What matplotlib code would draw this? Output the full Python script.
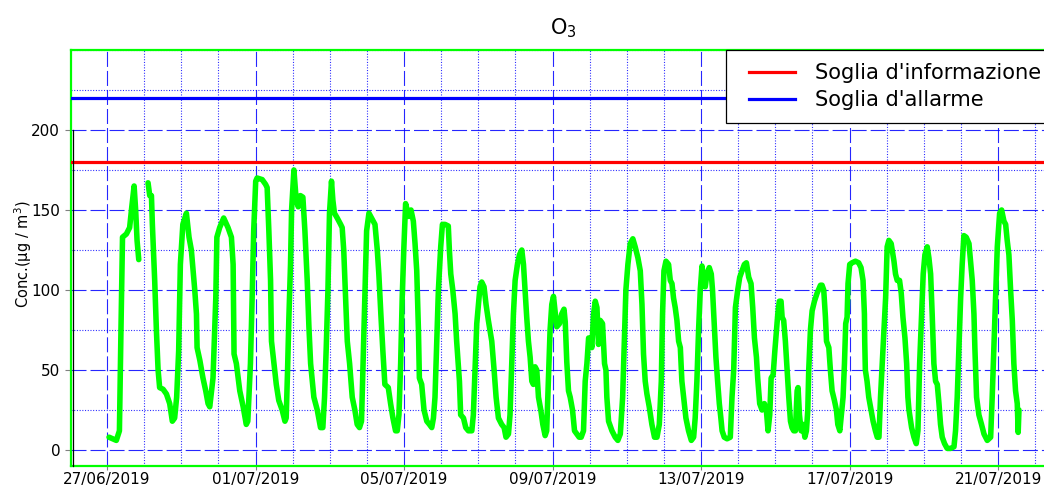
import numpy as np
import pandas as pd
import matplotlib
matplotlib.use("Agg")
import matplotlib.pyplot as plt
import matplotlib.dates as mdates
from matplotlib.ticker import MultipleLocator, FixedLocator
from matplotlib.lines import Line2D
from matplotlib.legend_handler import HandlerLine2D
from matplotlib.transforms import ScaledTranslation

# ---------------- data ----------------
start_time = "2019-06-27 00:00"
nan = np.nan

# hours since 27/06/2019 00:00
hours = [
    1.3, 6, 8, 9, 10, 12.5, 14.6, 16, 17.5, 18.5, 19.4, 20.5, 23.5, 26.5, 27.6, 28.7, 29.3, 30.8, 31.9, 33, 34,
    36.2, 38.4, 40.5, 42.2, 43.7, 45, 46.3, 47.4, 49, 51.3, 53, 54.5, 56.7, 57.8, 58.2, 60, 62, 63.8, 65.3,
    66.4, 68.5, 70.3, 71, 72.8, 75.4, 78.2, 80.4, 81.5, 82.1, 83.6, 85.8, 88, 90, 91, 92.7, 93.8, 94.8, 96.1,
    97, 100.3, 102.5, 103.5, 104.6, 105.7, 106.3, 107.9, 109.4, 111, 113.2, 115, 115.8, 116.7, 117.5, 118.6,
    119.3, 120.8, 122.3, 123.6, 125, 126.6, 127.9, 129.4, 130.5, 131.6, 133.7, 135.9, 138, 139.5, 140.6,
    141.7, 142.8, 143.8, 145.1, 146, 147, 148.8, 151, 152, 153, 154.2, 155.3, 156.8, 158.5, 160.2, 161.7,
    163.2, 164.5, 165.4, 166.7, 167.8, 169.3, 171, 173.2, 174.7, 175.7, 177, 178.3, 179.6, 181.8, 183.3,
    184.8, 186.5, 187.6, 188.7, 189.8, 190.8, 191.9, 193, 195, 196.5, 198,
    199.1, 200.2, 201.3, 201.9, 203.4, 204.9, 206.7, 208.4, 209.9, 211, 212, 213, 214.2, 215.7, 216.8,
    218.5, 220.6, 221.3, 222.2, 223.5, 225, 226, 227.8, 228.6, 230.4, 231.9, 233.6, 235.8, 236.8, 237.9,
    239, 240.1, 241.1, 242.2, 243.7, 245, 246.5, 248.7, 250.2, 251.5, 253, 255.1, 256.7, 257.9, 259.5,
    260.5, 261.6, 262.7, 263.8, 265.3, 266.6, 268.1, 269.2, 270.2, 271.3, 272.4, 273.5, 274.6, 275.6,
    276.7, 277.8, 278.9, 280.4, 281.7, 283.2, 284.2, 285.3, 286.4, 287.5, 288.6, 289.6, 290.7, 292.5,
    293.9, 295.4, 296.2, 297.2, 298.3,
    299.4, 300.9, 302.2, 303.7, 305.2, 306.5, 308, 309.1, 310.2, 311.3, 312.3, 313.4, 314.5, 315.6, 316.7,
    317.7, 318.8, 320.3, 321.6, 322.5, 323.1, 324.2, 326.4, 328.5, 330.2, 331.8, 333.3, 334.6, 335.4,
    336.7, 338.2, 339.9, 341.4, 343.2, 344.7, 345.8, 346.8, 347.9, 349, 350.5, 352.2, 353.9, 355.5, 357,
    358.3, 359.1, 360, 361.3, 363, 364.1, 365.2, 366.2, 367.3, 368.4, 369.5, 370.6, 371.6, 372.7, 374.2,
    375.9, 377.7, 379.2, 380.2, 381.3, 382.4, 383.5, 384.6, 385.6, 386.7, 387.8, 389.3, 390.6, 391.4,
    392.5, 393.6, 394.7, 395.8, 396.8,
    397.6, 399, 400.8, 402.9, 404, 405.1, 406.2, 407.7, 409, 410.5, 412, 413.3, 414.8, 416.3, 417.4, 418.5,
    419.8, 420.6, 421.9, 423.4, 424.9, 426.2, 427.3, 428.4, 429.3, 430.6, 431.7, 432.8, 433.6, 434.6,
    435.7, 436.4, 437.4, 438.5, 439.6, 440.7, 441.8, 442.8, 443.9, 445, 446.1, 446.7, 447.6, 448.7, 450,
    451.1, 452.1, 453, 453.6, 454.7, 455.8, 457.3, 459, 461.2, 462.2, 463.3, 464.4, 465.1, 466.6, 467.6,
    468.7, 470.2, 471.5, 472.4, 473.7, 474.5, 475.8, 476.7, 477.5, 478.4, 479, 480.1, 481.6, 483.8, 485.9,
    487.4, 488.7, 489.6, 489.8, 490.2, 491.3, 492.4, 493.9, 495.2, 496.7, 497.9,
    499, 500, 501.1, 502.2, 503.3, 504.3, 505.4, 506.9, 508.7, 509.7, 510.8, 512.3, 513.4, 514.5, 515.8,
    516.9, 517.7, 518.4, 520.1, 521.6, 523.1, 524.2, 525.3, 526.6, 527.6, 528.7, 530.2, 531.3, 532.4,
    533.4, 534.5, 535.6, 536.7, 537.8, 538.8, 539.9, 541.4, 543.1, 545.3, 547.5, 548.5, 549.6, 550.7,
    551.8, 552.8, 553.9, 555.4, 557.2, 558.2, 559.3, 560.4, 561, 562.1, 563.6, 565.3, 566.9, 569, 571.2,
    572.2, 573.3, 574.4, 575.5, 577, 578.3, 579.8, 580.9, 581.9, 583, 584.1, 585.2, 586.2, 587.3, 588.4,
    589, 589.5,
]

o3 = [
    8, 6, 12, 75, 133, 135, 139, 152, 165, 150, 131, 119, nan, 167, 159, 159, 141, 106, 75, 50, 39,
    38, 35, 29, 18, 20, 33, 62, 116, 141, 148, 133, 125, 100, 85, 64, 56, 45, 37, 29,
    27, 45, 95, 133, 139, 145, 139, 133, 116, 60, 54, 37, 27, 16, 18, 54, 95, 137, 168,
    170, 169, 166, 164, 137, 106, 68, 54, 41, 31, 25, 18, 20, 50, 81, 116,
    150, 175, 156, 152, 159, 158, 137, 106, 77, 54, 33, 25, 14, 14, 33,
    64, 100, 148, 168, 156, 148, 145, 141, 139, 125, 95, 68, 54, 33, 25, 16,
    14, 18, 50, 95, 137, 148, 145, 141, 125, 110, 85, 62, 41, 39, 29,
    20, 12, 12, 22, 54, 95, 127, 154, 146, 150, 143,
    129, 112, 75, 45, 41, 25, 18, 16, 14, 20, 33, 64, 100, 127, 141,
    141, 140, 125, 110, 100, 85, 68, 43, 22, 20, 14, 12, 12, 22, 50,
    79, 91, 102, 105, 102, 91, 81, 68, 50, 33, 20, 16, 14, 8, 10,
    22, 54, 85, 106, 116, 122, 125, 116, 100, 83, 68, 58, 43, 41,
    52, 50, 33, 25, 16, 9, 12, 43, 75, 91, 96, 87, 77, 79,
    85, 88, 80, 55, 37,
    33, 25, 12, 10, 8, 8, 12, 43, 54, 70, 70, 64, 85, 93, 89,
    66, 81, 79, 54, 50, 33, 18, 12, 8, 6, 10, 33, 75, 100,
    116, 129, 132, 127, 120, 112, 91, 60, 43, 35, 27, 16, 8, 8, 16,
    43, 85, 112, 118, 116, 106, 104, 95, 89, 81, 68, 64, 43, 33, 20,
    12, 6, 8, 20, 43, 75, 100, 115, 108, 102, 110, 114, 110, 100,
    79, 58, 43, 29, 20,
    12, 8, 7, 8, 33, 50, 89, 100, 108, 112, 116, 117, 108, 104, 89, 70,
    58, 45, 29, 25, 29, 25, 12, 22, 45, 47, 62, 75, 85, 93,
    93, 83, 81, 68, 50, 33, 18, 14, 12, 12, 37, 39, 22, 12, 16,
    8, 12, 25, 50, 75, 87, 93, 98, 103, 103, 100, 83, 68, 64, 50,
    37, 31, 25, 16, 12, 20, 33, 54, 79, 83, 104, 116, 117, 118, 117,
    114, 106, 85, 68, 50, 43, 33, 25, 18, 12, 8,
    8, 33, 54, 75, 95, 127, 131, 129, 118, 110, 106, 106, 98, 83, 70,
    54, 33, 25, 14, 8, 4, 12, 54, 85, 110, 122, 127, 120, 110,
    85, 54, 43, 41, 29, 16, 8, 4, 1, 1, 2, 12, 33, 64,
    95, 116, 134, 133, 129, 118, 106, 85, 64, 33, 22, 16, 10, 6, 8,
    33, 64, 95, 127, 148, 150, 143, 141, 131, 122, 100, 81, 54, 37, 29,
    11, 25,
]

tick_labels = ["27/06/2019", "01/07/2019", "05/07/2019", "09/07/2019",
               "13/07/2019", "17/07/2019", "21/07/2019"]
y_ticks = [0, 50, 100, 150, 200]
info_threshold = 180
alarm_threshold = 220
legend_labels = ["Soglia d'informazione", "Soglia d'allarme"]
title_text = "O$_3$"
ylabel_text = "Conc.(µg / m$^3$)"

# ---------------- figure ----------------
plt.rcParams["font.family"] = ["DejaVu Sans"]
plt.rcParams["lines.scale_dashes"] = False

W, H = 1044, 486
fig = plt.figure(figsize=(W / 100, H / 100), dpi=100)
fig.patch.set_facecolor("white")
ax = fig.add_axes([71 / W, 1 - 466 / H, (1055 - 71) / W, 416 / H])

t0 = pd.Timestamp(start_time)
times = t0 + pd.to_timedelta(hours, unit="h")

green = "#00ff00"
ax.plot(times, o3, color=green, lw=4.0, solid_joinstyle="round",
        solid_capstyle="round", zorder=4)

l_info = ax.axhline(info_threshold, color="#ff0000", lw=2.3, zorder=3)
l_alarm = ax.axhline(alarm_threshold, color="#0000ff", lw=2.3, zorder=3)

ax.set_xlim(t0 - pd.Timedelta(hours=23.3), t0 + pd.Timedelta(hours=612.8))
ax.set_ylim(-10, 250)

tick_pos = pd.to_datetime(tick_labels, format="%d/%m/%Y")
ax.xaxis.set_major_locator(FixedLocator(mdates.date2num(tick_pos)))
ax.xaxis.set_minor_locator(mdates.DayLocator())
ax.set_xticklabels(tick_labels)
ax.yaxis.set_major_locator(FixedLocator(y_ticks))
ax.yaxis.set_minor_locator(MultipleLocator(25))

ax.set_axisbelow(True)
ax.grid(which="major", color="#0000ff", lw=0.8, linestyle=(0, (10.8, 2.9)), alpha=0.85)
ax.grid(which="minor", color="#0000ff", lw=0.8, linestyle=(0, (0.75, 1.2)), alpha=0.85)

ax.tick_params(which="minor", length=0)
ax.tick_params(axis="x", which="major", length=3, width=0.8, color="#808080",
               pad=1.5, labelsize=11, labelcolor="black")
ax.tick_params(axis="y", which="major", length=4.3, width=0.8, color="#808080",
               pad=3.5, labelsize=11, labelcolor="black")

for sp in ax.spines.values():
    sp.set_color(green)
    sp.set_linewidth(1.6)

# black axis line along left edge (from bottom to top tick)
trans = ax.get_yaxis_transform() + ScaledTranslation(1.5 / 100, 0, fig.dpi_scale_trans)
ax.plot([0, 0], [ax.get_ylim()[0], y_ticks[-1]], color="black", lw=0.9,
        transform=trans, clip_on=False, zorder=5)

# legend
leg = ax.legend(handles=[l_info, l_alarm], labels=legend_labels,
                loc="upper left", bbox_to_anchor=(726 / W, 1 - 50 / H),
                bbox_transform=fig.transFigure, fontsize=15.1,
                frameon=True, fancybox=False, shadow=False,
                borderpad=0.62, handlelength=2.65, handletextpad=0.95,
                labelspacing=0.34, borderaxespad=0,
                handler_map={Line2D: HandlerLine2D(xpad=0.48)})
leg.get_frame().set_edgecolor("black")
leg.get_frame().set_linewidth(0.9)
leg.get_frame().set_alpha(1)
leg.set_zorder(10)

# title and y label
fig.text(563 / W, 1 - 28 / H, title_text, ha="center", va="center", fontsize=15)
fig.text(23 / W, 1 - 254 / H, ylabel_text, ha="center", va="center",
         rotation=90, fontsize=10.5)

fig.savefig("out.png", dpi=100, facecolor="white")
